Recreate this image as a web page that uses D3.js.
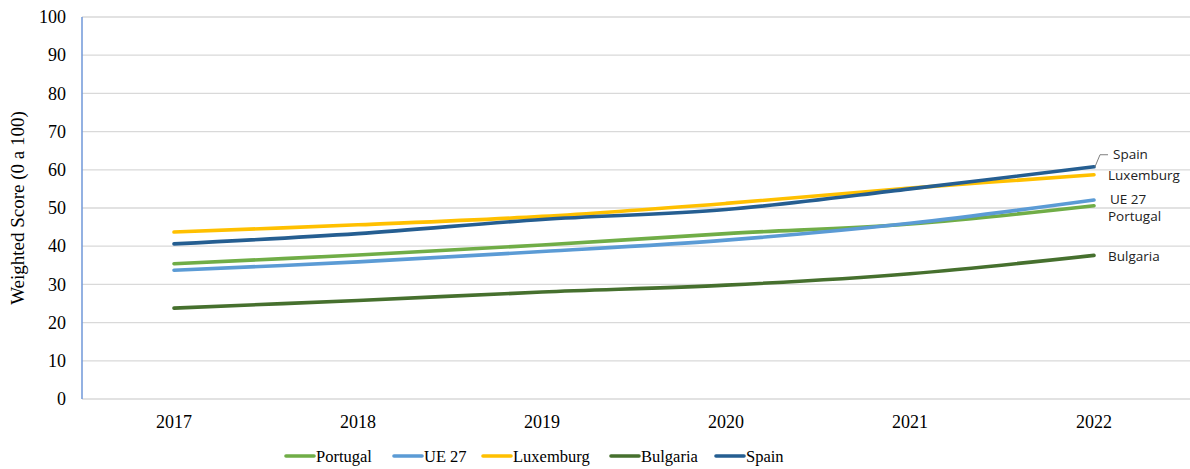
<!DOCTYPE html>
<html>
<head>
<meta charset="utf-8">
<script src="https://cdn.jsdelivr.net/npm/d3@7"></script>
<style>
body { margin:0; background:#fff; }
</style>
</head>
<body>
<svg id="chart"></svg>
<script>
var years = ["2017","2018","2019","2020","2021","2022"]
var yTicks = [0,10,20,30,40,50,60,70,80,90,100]

var portugal   = [35.4, 37.7, 40.3, 43.3, 45.8, 50.6]
var ue27       = [33.7, 35.9, 38.6, 41.6, 46.0, 52.1]
var luxembourg = [43.7, 45.6, 47.8, 51.2, 55.2, 58.7]
var bulgaria   = [23.8, 25.8, 28.0, 29.8, 32.8, 37.6]
var spain      = [40.6, 43.3, 47.0, 49.6, 55.0, 60.8]

var seriesNames  = ["Portugal","UE 27","Luxemburg","Bulgaria","Spain"]
var seriesValues = [portugal, ue27, luxembourg, bulgaria, spain]
var seriesColors = ["#70ad47","#5b9bd5","#ffc000","#46702e","#255e91"]

var serif = "'Liberation Serif','DejaVu Serif',serif"
var sans = "'Open Sans','Noto Sans',sans-serif"

var screen = {width:1190, height:469}
var margins = {top:17, bottom:70, left:82, right:4}
var graph = {
    width: screen.width-margins.left-margins.right,
    height: screen.height-margins.top-margins.bottom
}

var svg = d3.select("#chart")
    .attr("width",screen.width)
    .attr("height",screen.height)

var xScale = d3.scaleBand()
    .domain(years)
    .range([0,graph.width])

var yScale = d3.scaleLinear()
    .domain([0,100])
    .range([graph.height,0])

var g = svg.append("g")
    .attr("transform","translate("+margins.left+","+margins.top+")")

// gridlines
g.append("g")
    .selectAll("line")
    .data(yTicks)
    .enter()
    .append("line")
    .attr("x1",0)
    .attr("x2",graph.width+margins.right)
    .attr("y1",function(d){return yScale(d)})
    .attr("y2",function(d){return yScale(d)})
    .attr("stroke","#d9d9d9")
    .attr("stroke-width",1.3)

// y axis
var yAxis = g.append("g")
    .call(d3.axisLeft(yScale).tickValues(yTicks).tickSize(0).tickPadding(16))
yAxis.select(".domain").remove()
yAxis.attr("font-family",serif).attr("font-size",18)
yAxis.selectAll("text").attr("fill","#000")
g.append("line")
    .attr("x1",0).attr("x2",0)
    .attr("y1",0).attr("y2",graph.height)
    .attr("stroke","#6f97d8")
    .attr("stroke-width",1.5)

// x axis
var xAxis = g.append("g")
    .attr("transform","translate(0,"+graph.height+")")
    .call(d3.axisBottom(xScale).tickSize(0).tickPadding(16))
xAxis.select(".domain").remove()
xAxis.attr("font-family",serif).attr("font-size",18)
xAxis.selectAll("text").attr("fill","#000")

// y title
svg.append("text")
    .attr("transform","translate(24,"+(margins.top+graph.height/2)+") rotate(-90)")
    .attr("text-anchor","middle")
    .attr("font-family",serif)
    .attr("font-size",19)
    .text("Weighted Score (0 a 100)")

var xPos = function(d,i){ return xScale(years[i])+xScale.bandwidth()/2 }

var lineGenerator = d3.line()
    .x(xPos)
    .y(function(d){return yScale(d)})
    .curve(d3.curveCatmullRom.alpha(0.5))

g.append("g")
    .selectAll("path")
    .data(seriesValues)
    .enter()
    .append("path")
    .attr("d",lineGenerator)
    .attr("fill","none")
    .attr("stroke",function(d,i){return seriesColors[i]})
    .attr("stroke-width",3.6)
    .attr("stroke-linecap","round")

// end labels
var last = years.length-1
var lastX = xPos(null,last)
var labelOffsets = [
    {name:"Spain", dx:19, y:yScale(spain[last])-12},
    {name:"Luxemburg", dx:14, y:yScale(luxembourg[last])+1},
    {name:"UE 27", dx:16, y:yScale(ue27[last])-1},
    {name:"Portugal", dx:14, y:yScale(portugal[last])+11},
    {name:"Bulgaria", dx:14, y:yScale(bulgaria[last])+1}
]
g.selectAll(".endlabel")
    .data(labelOffsets)
    .enter()
    .append("text")
    .classed("endlabel",true)
    .attr("x",function(d){return lastX+d.dx})
    .attr("y",function(d){return d.y})
    .attr("dy","0.35em")
    .attr("font-family",sans)
    .attr("font-size",13.5)
    .attr("fill","#222")
    .text(function(d){return d.name})

// leader for Spain
g.append("polyline")
    .attr("points",[[lastX+1,yScale(spain[last])],[lastX+6,yScale(spain[last])-12],[lastX+14,yScale(spain[last])-12]].join(" "))
    .attr("fill","none")
    .attr("stroke","#7f7f7f")
    .attr("stroke-width",1)

// legend
var legendX = [286,394,483,611,716]
var legend = svg.append("g")
    .attr("transform","translate(0,456)")
var items = legend.selectAll("g")
    .data(seriesNames)
    .enter()
    .append("g")
    .attr("transform",function(d,i){return "translate("+legendX[i]+",0)"})
items.append("line")
    .attr("x1",0).attr("x2",28)
    .attr("stroke",function(d,i){return seriesColors[i]})
    .attr("stroke-width",3.6)
    .attr("stroke-linecap","round")
items.append("text")
    .attr("x",30)
    .attr("dy","0.35em")
    .attr("font-family",serif)
    .attr("font-size",16.5)
    .text(function(d){return d})
</script>
</body>
</html>
